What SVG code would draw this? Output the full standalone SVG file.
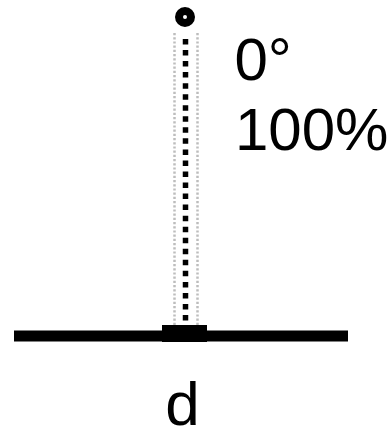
<svg xmlns="http://www.w3.org/2000/svg" width="387" height="432" viewBox="0 0 387 432">
<style>
.t{font-family:"Liberation Sans",Arial,sans-serif;font-size:60px;fill:#000}
.g{stroke:#bdbdbd;stroke-width:2.5;stroke-dasharray:2.2 2;fill:none}
</style>
<rect width="387" height="432" fill="#fff"/>
<g id="connectors">
<line class="g" x1="174.5" y1="33" x2="174.5" y2="325"/>
<line class="g" x1="197.5" y1="33" x2="197.5" y2="325"/>
<line x1="185.5" y1="39" x2="185.5" y2="322" stroke="#000" stroke-width="5.5" stroke-dasharray="5.5 5.54"/>
</g>
<g id="pivot">
<circle cx="185" cy="17" r="6" fill="#fff" stroke="#000" stroke-width="8"/>
</g>
<g id="base">
<rect x="14" y="330.5" width="334" height="11" fill="#000"/>
<rect x="162" y="325" width="45" height="17" fill="#000"/>
</g>
<g id="labels">
<text class="t" x="234.5" y="80">0°</text>
<text class="t" x="235" y="149.5">100%</text>
<text class="t" x="182.5" y="425" text-anchor="middle" style="font-size:62px">d</text>
</g>
</svg>
